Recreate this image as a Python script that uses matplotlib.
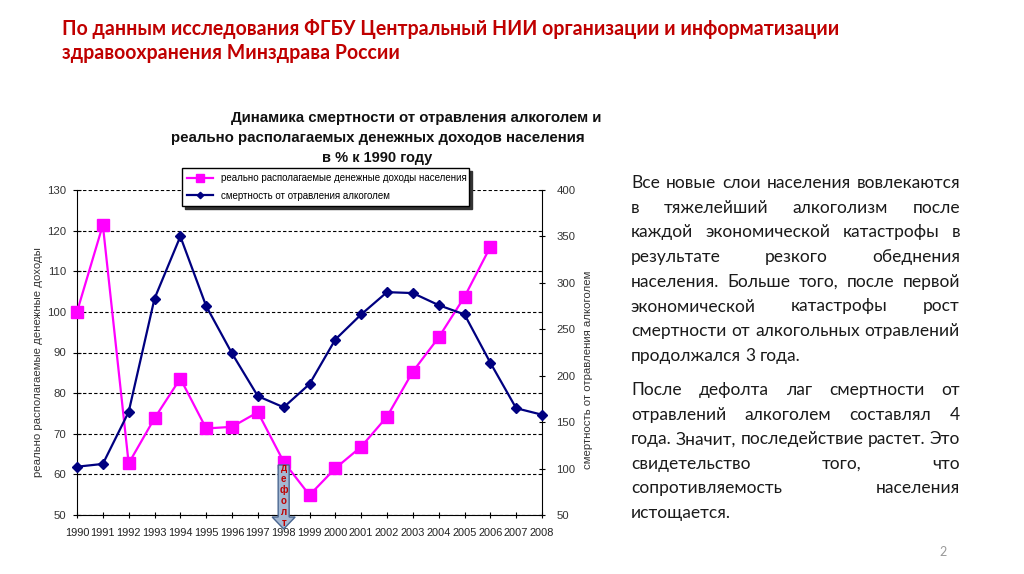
import matplotlib
matplotlib.use('Agg')
import matplotlib.pyplot as plt
from matplotlib.patches import Polygon

# data
years = list(range(1990, 2009))
income_years = list(range(1990, 2007))
income = [100, 121.4, 62.7, 73.8, 83.6, 71.3, 71.7, 75.3, 63.1, 54.9,
          61.5, 66.8, 74.2, 85.3, 93.7, 103.7, 116.0]
mortality = [102, 105, 161, 283, 350, 275, 224, 178, 166, 191,
             239, 266, 290, 289, 276, 266, 214, 165, 158]

header = ["По данным исследования ФГБУ Центральный НИИ организации и информатизации",
          "здравоохранения Минздрава России"]
chart_title = ["Динамика смертности от отравления алкоголем и",
               "реально располагаемых денежных доходов населения",
               "в % к 1990 году"]
income_label = "реально располагаемые денежные доходы населения"
mort_label = "смертность от отравления алкоголем"
left_ylabel = "реально располагаемые денежные доходы"
right_ylabel = "смертность от отравления алкоголем"
default_word = "дефолт"

para1 = ["Все новые слои населения вовлекаются",
         "в тяжелейший алкоголизм после",
         "каждой экономической катастрофы в",
         "результате резкого обеднения",
         "населения. Больше того, после первой",
         "экономической катастрофы рост",
         "смертности от алкогольных отравлений",
         "продолжался 3 года."]
para2 = ["После дефолта лаг смертности от",
         "отравлений алкоголем составлял 4",
         "года. Значит, последействие растет. Это",
         "свидетельство того, что",
         "сопротивляемость населения",
         "истощается."]

W, H = 1024, 574


def fx(px):
    return px / W


def fy(py):
    return 1 - py / H


fig = plt.figure(figsize=(10.24, 5.74), dpi=100)
fig.patch.set_facecolor('white')
renderer = fig.canvas.get_renderer()

narrow = ['Liberation Sans Narrow', 'Liberation Sans', 'DejaVu Sans']


def fit_text(s, x0, x1, yb, **kw):
    t = fig.text(fx(x0), fy(yb), s, ha='left', va='baseline', **kw)
    w = t.get_window_extent(renderer).width
    t.set_fontsize(t.get_fontsize() * (x1 - x0) / w)
    return t


# header
h1 = fit_text(header[0], 62, 843, 35, fontsize=14, family='Lato',
              weight='bold', color='#C00000')
fig.text(fx(62), fy(59), header[1], ha='left', va='baseline',
         fontsize=h1.get_fontsize(), family='Lato', weight='bold', color='#C00000')

# chart title
fit_text(chart_title[0], 231, 603, 122, fontsize=10, family='Liberation Sans',
         weight='bold', color='#111111')
fit_text(chart_title[1], 171, 586, 142, fontsize=10, family='Liberation Sans',
         weight='bold', color='#111111')
fit_text(chart_title[2], 322, 433, 162, fontsize=10, family='Liberation Sans',
         weight='bold', color='#111111')

# axes
ax = fig.add_axes([fx(77), fy(515), 465 / W, 325 / H])
ax2 = ax.twinx()
ax.set_xlim(1990, 2008)
ax.set_ylim(50, 130)
ax2.set_ylim(50, 400)
ax.set_xticks(years)
ax.set_xticklabels([str(y) for y in years], family=narrow, fontsize=7.9, color='#222222')
ax.set_yticks(range(50, 131, 10))
ax2.set_yticks(range(50, 401, 50))
for lab in ax.get_yticklabels() + ax2.get_yticklabels():
    lab.set_family(narrow)
    lab.set_fontsize(8.2)
    lab.set_color('#333333')
ax.yaxis.grid(True, linestyle=(0, (3, 2)), color='black', linewidth=0.8)
ax.set_axisbelow(True)
for a in (ax, ax2):
    a.spines['top'].set_visible(False)
ax.spines['right'].set_visible(False)
ax2.spines['left'].set_visible(False)
ax2.spines['bottom'].set_visible(False)
ax.tick_params(axis='x', direction='inout', length=5, pad=7, width=0.8)
ax.tick_params(axis='y', direction='inout', length=6, pad=5, width=0.8)
ax2.tick_params(axis='y', direction='inout', length=5, pad=8, width=0.8)

l1, = ax.plot(income_years, income, color='#FF00FF', lw=1.6, marker='s',
              markersize=8.5, clip_on=False, zorder=3, label=income_label)
l2, = ax2.plot(years, mortality, color='#000080', lw=1.6, marker='D',
               markersize=5, clip_on=False, zorder=4, label=mort_label)

fig.text(fx(38), fy(362), left_ylabel, rotation=90, ha='center', va='center',
         family=narrow, fontsize=8.2, color='#333333')
fig.text(fx(588), fy(370), right_ylabel, rotation=90, ha='center', va='center',
         family=narrow, fontsize=8.2, color='#333333')

leg = fig.legend(handles=[l1, l2], loc='upper left',
                 bbox_to_anchor=(fx(182), fy(206), 287 / W, 38 / H),
                 mode='expand', borderaxespad=0, fancybox=False,
                 shadow={'color': '#333333', 'alpha': 1},
                 prop={'family': narrow, 'size': 7}, handlelength=2.6,
                 handletextpad=0.9, borderpad=0.55, labelspacing=0.75,
                 markerscale=0.65, frameon=True)
leg.get_frame().set_edgecolor('black')
leg.get_frame().set_linewidth(1.0)
leg.set_zorder(10)

# default arrow
cx = ax.transData.transform((1998, 50))[0]
bw, hw = 5.5, 11.5
pts = [(cx - bw, 465), (cx + bw, 465), (cx + bw, 517), (cx + hw, 517),
       (cx, 529), (cx - hw, 517), (cx - bw, 517)]
arrow = Polygon([(fx(x), fy(y)) for x, y in pts], closed=True,
                transform=fig.transFigure, facecolor='#A4B8D2',
                edgecolor='#4A6690', linewidth=1.0, zorder=20)
fig.add_artist(arrow)
for i, ch in enumerate(default_word):
    fig.text(fx(cx), fy(468 + 11 * i), ch, ha='center', va='center',
             fontsize=7, weight='bold', color='#C00000', family='Liberation Sans',
             zorder=21)

# right text block, justified
tx0, tx1 = 631, 960
probe = fig.text(0, 0, para2[2], fontsize=12, family='Lato')
body_fs = 12 * (tx1 - tx0) / probe.get_window_extent(renderer).width
probe.remove()


def justify(lines, y0, step):
    for i, line in enumerate(lines):
        words = line.split()
        ts = [fig.text(0, fy(y0 + i * step), w, fontsize=body_fs, family='Lato',
                       color='#1a1a1a', va='baseline', ha='left') for w in words]
        ws = [t.get_window_extent(renderer).width for t in ts]
        if i == len(lines) - 1:
            gap = body_fs * 0.23 * 100 / 72
        else:
            gap = (tx1 - tx0 - sum(ws)) / (len(words) - 1)
        x = tx0
        for t, w in zip(ts, ws):
            t.set_x(fx(x))
            x += w + gap


justify(para1, 188, 24.7)
justify(para2, 395, 24.6)

fig.text(fx(943), fy(556), "2", fontsize=9, color='#999999', family='Lato',
         ha='center', va='baseline')

fig.savefig('out.png', dpi=100)
